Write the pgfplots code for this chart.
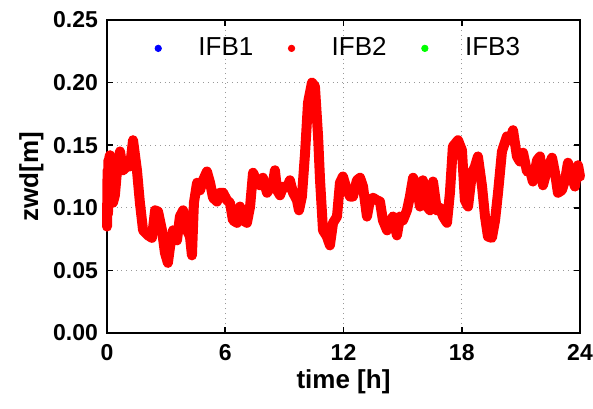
\documentclass[border=0pt]{standalone}
\usepackage{fontspec}
\setmainfont{Liberation Sans}
\usepackage{pgfplots}
\pgfplotsset{compat=1.18}
\begin{document}
\begin{tikzpicture}
\useasboundingbox (-53.5pt,-37.5pt) rectangle (243pt,166.5pt);
\begin{axis}[
  at={(0,0)}, anchor=south west,
  scale only axis, width=236.5pt, height=156.5pt,
  xmin=0, xmax=24, ymin=0, ymax=0.25,
  xtick={0,6,12,18,24}, ytick={0,0.05,0.10,0.15,0.20,0.25},
  yticklabel style={/pgf/number format/fixed, /pgf/number format/fixed zerofill, /pgf/number format/precision=2, xshift=-1pt},
  /pgf/number format/assume math mode=true,
  tick label style={font=\bfseries\fontsize{11.5}{13}\selectfont},
  xticklabel style={yshift=-2pt},
  xlabel={time [h]}, ylabel={zwd[m]},
  label style={font=\bfseries\fontsize{13}{15}\selectfont},
  xlabel style={yshift=2pt},
  ylabel style={yshift=-2pt},
  grid=major,
  major grid style={gray!80, dotted, line width=0.6pt},
  axis line style={line width=1.2pt},
  tick style={black, line width=0.8pt},
  tick align=inside, major tick length=3pt,
  clip=false,
  legend columns=3,
  legend style={at={(0.5,0.97)}, anchor=north, draw=none, fill=none,
    font=\fontsize{13}{15}\selectfont,
    nodes={inner xsep=6pt},
    /tikz/every odd column/.append style={column sep=12.5pt},
    /tikz/every even column/.append style={column sep=11.5pt}},
]
\addlegendimage{only marks, mark=*, blue, mark size=1.6pt}
\addlegendentry{IFB1}
\addlegendimage{only marks, mark=*, red, mark size=1.6pt}
\addlegendentry{IFB2}
\addlegendimage{only marks, mark=*, green, mark size=1.6pt}
\addlegendentry{IFB3}
\addplot[forget plot, red, line width=5pt, line join=round, line cap=round] coordinates {
(0,0.085)(0.03,0.13)(0.05,0.095)(0.07,0.138)(0.09,0.105)(0.12,0.14)(0.15,0.142)(0.22,0.12)(0.30,0.104)(0.4,0.11)(0.51,0.13)(0.66,0.145)(0.81,0.13)(1.01,0.133)(1.17,0.133)(1.32,0.154)(1.52,0.13)(1.67,0.104)(1.83,0.082)(2.08,0.078)(2.28,0.076)(2.44,0.098)(2.59,0.097)(2.79,0.082)(2.94,0.064)(3.09,0.056)(3.20,0.069)(3.35,0.082)(3.55,0.074)(3.70,0.093)(3.86,0.098)(4.06,0.082)(4.21,0.077)(4.31,0.062)(4.41,0.104)(4.57,0.12)(4.72,0.114)(4.87,0.122)(5.07,0.129)(5.23,0.12)(5.38,0.108)(5.58,0.105)(5.73,0.112)(5.89,0.112)(6.09,0.106)(6.24,0.104)(6.39,0.09)(6.60,0.088)(6.75,0.101)(6.90,0.09)(7.10,0.088)(7.26,0.101)(7.41,0.128)(7.61,0.121)(7.76,0.118)(7.91,0.124)(8.12,0.112)(8.27,0.116)(8.42,0.12)(8.52,0.13)(8.63,0.114)(8.78,0.11)(8.93,0.117)(9.13,0.116)(9.28,0.122)(9.44,0.112)(9.64,0.106)(9.74,0.098)(9.89,0.109)(10.05,0.144)(10.20,0.184)(10.40,0.200)(10.55,0.197)(10.71,0.157)(10.81,0.122)(10.96,0.082)(11.16,0.077)(11.31,0.07)(11.47,0.088)(11.67,0.093)(11.82,0.12)(11.97,0.125)(12.18,0.114)(12.33,0.109)(12.48,0.109)(12.68,0.122)(12.84,0.124)(12.99,0.117)(13.19,0.093)(13.34,0.106)(13.50,0.108)(13.70,0.106)(13.85,0.105)(14.00,0.09)(14.21,0.082)(14.36,0.088)(14.51,0.093)(14.71,0.078)(14.87,0.093)(15.02,0.09)(15.22,0.098)(15.37,0.109)(15.53,0.124)(15.73,0.117)(15.88,0.101)(16.03,0.122)(16.24,0.101)(16.39,0.098)(16.54,0.121)(16.74,0.098)(16.89,0.1)(17.05,0.093)(17.25,0.088)(17.40,0.112)(17.55,0.149)(17.81,0.154)(18.01,0.146)(18.16,0.106)(18.32,0.101)(18.52,0.128)(18.67,0.133)(18.82,0.141)(19.03,0.117)(19.18,0.093)(19.33,0.077)(19.53,0.076)(19.69,0.09)(19.84,0.112)(20.04,0.145)(20.29,0.157)(20.45,0.154)(20.60,0.162)(20.80,0.141)(20.95,0.137)(21.11,0.144)(21.31,0.129)(21.46,0.13)(21.61,0.121)(21.82,0.138)(21.97,0.141)(22.12,0.118)(22.32,0.13)(22.58,0.14)(22.73,0.128)(22.88,0.112)(23.08,0.114)(23.24,0.122)(23.39,0.136)(23.59,0.125)(23.74,0.117)(23.90,0.134)(24.0,0.125)
};
\end{axis}
\end{tikzpicture}
\end{document}
